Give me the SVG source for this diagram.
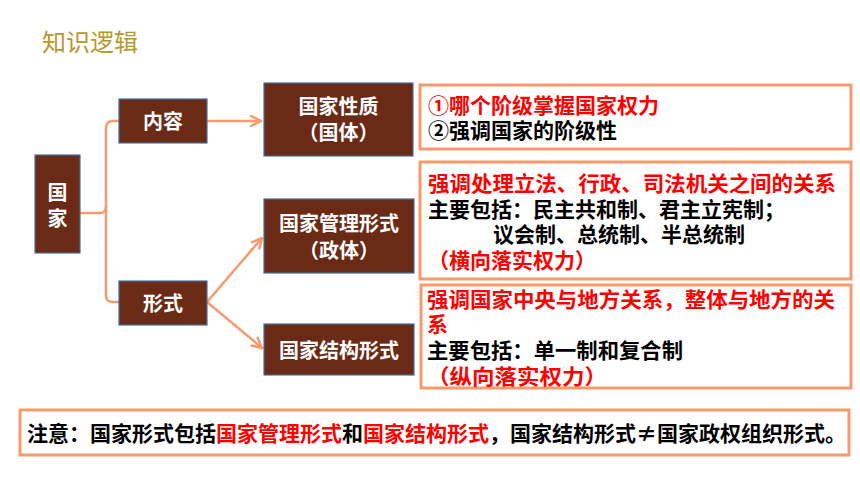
<svg xmlns="http://www.w3.org/2000/svg" width="860" height="484" viewBox="0 0 860 484">
<defs>
<style>
.node{fill:#6B2A16;stroke:#41719C;stroke-width:1.2}
.nt{fill:#ffffff;font-family:"Noto Sans CJK SC","Liberation Sans",sans-serif;font-weight:bold;font-size:20px;text-anchor:middle}
.tb{fill:#ffffff;stroke:#F79B6E;stroke-width:3}
.bt{font-family:"Noto Sans CJK SC","Liberation Sans",sans-serif;font-weight:bold;font-size:21px;fill:#000000}
.red{fill:#FF0000}
.conn{fill:none;stroke:#F79B6E;stroke-width:2.5;stroke-linecap:round;stroke-linejoin:round}
</style>
<marker id="arr" viewBox="0 0 12 12" refX="11" refY="6" markerWidth="12" markerHeight="12" markerUnits="userSpaceOnUse" orient="auto">
<path d="M1,1 L11,6 L1,11" fill="none" stroke="#F79B6E" stroke-width="2.5" stroke-linecap="round" stroke-linejoin="round"/>
</marker>
</defs>
<rect width="860" height="484" fill="#ffffff"/>
<text x="42" y="51" font-family="Noto Sans CJK SC,Liberation Sans,sans-serif" font-size="24" fill="#B8962E">知识逻辑</text>

<g id="connectors">
<path class="conn" d="M80,213 L100,213 Q106,213 106,207 L106,128 Q106,121 113,121 L119,121"/>
<path class="conn" d="M106,207 L106,296 Q106,302 113,302 L119,302"/>
<path class="conn" d="M207,121 L261,121" marker-end="url(#arr)"/>
<path class="conn" d="M207,302 L262,238" marker-end="url(#arr)"/>
<path class="conn" d="M207,302 L262,348" marker-end="url(#arr)"/>
</g>

<g id="n-guojia">
<rect class="node" x="35" y="155" width="45" height="98"/>
<text class="nt" x="57.5" y="200">国</text>
<text class="nt" x="57.5" y="226">家</text>
</g>
<g id="n-neirong">
<rect class="node" x="119" y="99" width="88" height="44"/>
<text class="nt" x="163" y="129">内容</text>
</g>
<g id="n-xingshi">
<rect class="node" x="119" y="281" width="88" height="44"/>
<text class="nt" x="163" y="311">形式</text>
</g>
<g id="n-xingzhi">
<rect class="node" x="264" y="83" width="149" height="73"/>
<text class="nt" x="338.5" y="114">国家性质</text>
<text class="nt" x="338.5" y="140">（国体）</text>
</g>
<g id="n-guanli">
<rect class="node" x="264" y="199" width="150" height="74"/>
<text class="nt" x="339" y="231">国家管理形式</text>
<text class="nt" x="339" y="258">（政体）</text>
</g>
<g id="n-jiegou">
<rect class="node" x="264" y="324" width="150" height="51"/>
<text class="nt" x="339" y="358">国家结构形式</text>
</g>

<g id="box-guoti">
<rect class="tb" x="420" y="85" width="431" height="64"/>
<text class="bt red" x="428" y="113">①哪个阶级掌握国家权力</text>
<text class="bt" x="428" y="138">②强调国家的阶级性</text>
</g>
<g id="box-zhengti">
<rect class="tb" x="420" y="162" width="431" height="117"/>
<text class="bt red" x="428" y="191" textLength="408" lengthAdjust="spacingAndGlyphs">强调处理立法、行政、司法机关之间的关系</text>
<text class="bt" x="428" y="217">主要包括：民主共和制、君主立宪制；</text>
<text class="bt" x="493" y="242">议会制、总统制、半总统制</text>
<text class="bt red" x="428" y="268">（横向落实权力）</text>
</g>
<g id="box-jiegou">
<rect class="tb" x="421" y="285" width="430" height="103"/>
<text class="bt red" x="427" y="307" textLength="408" lengthAdjust="spacingAndGlyphs">强调国家中央与地方关系，整体与地方的关</text>
<text class="bt red" x="427" y="332">系</text>
<text class="bt" x="427" y="358" textLength="256" lengthAdjust="spacingAndGlyphs">主要包括：单一制和复合制</text>
<text class="bt red" x="427" y="384" textLength="180" lengthAdjust="spacingAndGlyphs">（纵向落实权力）</text>
</g>
<g id="box-note">
<rect class="tb" x="20" y="410" width="829" height="45"/>
<text class="bt" x="27" y="441" textLength="819" lengthAdjust="spacingAndGlyphs">注意：国家形式包括<tspan class="red">国家管理形式</tspan>和<tspan class="red">国家结构形式</tspan>，国家结构形式≠国家政权组织形式。</text>
</g>
</svg>
